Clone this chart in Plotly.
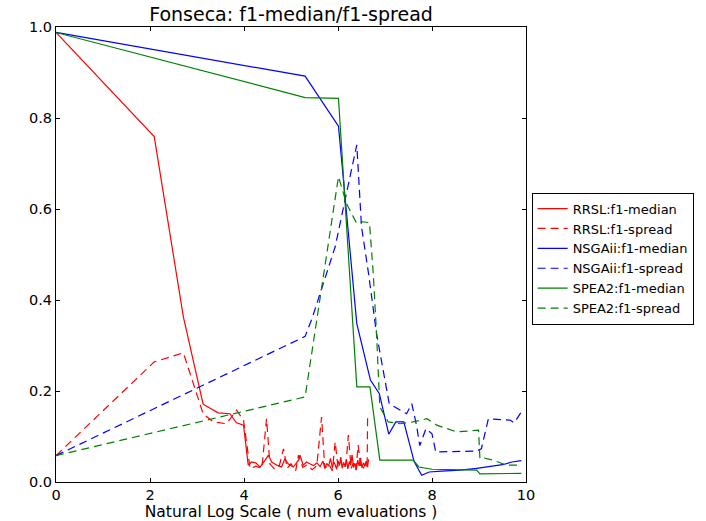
import plotly.graph_objects as go

# RRSL
rrsl_med_x = [0, 2.09, 2.71, 3.13, 3.45, 3.70, 3.84, 3.99, 4.09, 4.16, 4.25, 4.34, 4.45, 4.52, 4.59, 4.70,
              4.80, 4.87, 4.94, 5.05, 5.16, 5.19, 5.26, 5.33, 5.40, 5.48, 5.55, 5.62, 5.68, 5.72, 5.76,
              5.80, 5.84, 5.88, 5.91, 5.94, 5.97, 6.00, 6.03, 6.06, 6.09, 6.12, 6.15, 6.18, 6.21, 6.24,
              6.27, 6.30, 6.33, 6.36, 6.39, 6.42, 6.45, 6.48, 6.51, 6.54, 6.57, 6.60, 6.63, 6.65]
rrsl_med_y = [0.988, 0.759, 0.363, 0.171, 0.152, 0.150, 0.130, 0.125, 0.037, 0.044, 0.042, 0.033, 0.048,
              0.059, 0.044, 0.037, 0.033, 0.051, 0.040, 0.033, 0.048, 0.059, 0.037, 0.044, 0.040, 0.036,
              0.042, 0.034, 0.046, 0.030, 0.041, 0.035, 0.052, 0.031, 0.044, 0.038, 0.028, 0.047, 0.036,
              0.055, 0.030, 0.043, 0.034, 0.050, 0.029, 0.045, 0.037, 0.060, 0.032, 0.041, 0.027, 0.048,
              0.035, 0.053, 0.031, 0.042, 0.036, 0.046, 0.033, 0.050]
rrsl_spr_x = [0, 2.09, 2.71, 3.13, 3.35, 3.63, 3.84, 3.99, 4.13, 4.25, 4.38, 4.48, 4.55, 4.65, 4.75, 4.84,
              4.92, 5.00, 5.10, 5.16, 5.25, 5.35, 5.45, 5.55, 5.65, 5.72, 5.80, 5.88, 5.94, 6.00, 6.06,
              6.12, 6.17, 6.22, 6.28, 6.33, 6.38, 6.43, 6.48, 6.53, 6.58, 6.62, 6.63]
rrsl_spr_y = [0.058, 0.264, 0.284, 0.150, 0.132, 0.128, 0.158, 0.136, 0.029, 0.035, 0.030, 0.139, 0.040,
              0.028, 0.035, 0.073, 0.030, 0.040, 0.025, 0.059, 0.032, 0.038, 0.027, 0.036, 0.143, 0.030,
              0.040, 0.025, 0.088, 0.032, 0.045, 0.028, 0.038, 0.103, 0.030, 0.042, 0.026, 0.081, 0.035,
              0.028, 0.040, 0.030, 0.145]

# NSGAii
nsga_med_x = [0, 5.30, 6.01, 6.40, 6.69, 6.88, 7.08, 7.23, 7.40, 7.62, 7.78, 7.94, 8.20, 8.60, 8.95, 9.20,
              9.50, 9.70, 9.90]
nsga_med_y = [0.988, 0.892, 0.782, 0.348, 0.224, 0.194, 0.105, 0.132, 0.132, 0.045, 0.015, 0.022, 0.024,
              0.026, 0.030, 0.033, 0.038, 0.044, 0.047]
nsga_spr_x = [0, 5.30, 5.45, 5.62, 5.94, 6.15, 6.33, 6.40, 6.50, 6.65, 6.82, 7.00, 7.09, 7.46, 7.57, 7.67,
              7.74, 7.87, 8.00, 8.08, 8.95, 9.05, 9.20, 9.66, 9.75, 9.92]
nsga_spr_y = [0.058, 0.320, 0.360, 0.414, 0.517, 0.620, 0.708, 0.741, 0.561, 0.458, 0.326, 0.224, 0.172,
              0.150, 0.172, 0.125, 0.080, 0.117, 0.106, 0.066, 0.068, 0.073, 0.139, 0.136, 0.130, 0.157]

# SPEA2
spea_med_x = [0, 5.30, 6.01, 6.40, 6.68, 6.89, 7.60, 7.72, 8.00, 8.95, 9.02, 9.90]
spea_med_y = [0.988, 0.845, 0.843, 0.209, 0.209, 0.048, 0.048, 0.033, 0.028, 0.026, 0.018, 0.019]
spea_spr_x = [0, 5.30, 6.01, 6.18, 6.40, 6.52, 6.67, 6.75, 6.82, 6.89, 7.07, 7.32, 7.60, 7.89, 8.10, 8.31,
              8.53, 8.99, 9.02, 9.10, 9.30, 9.59, 9.90]
spea_spr_y = [0.058, 0.187, 0.671, 0.612, 0.568, 0.572, 0.570, 0.458, 0.326, 0.165, 0.132, 0.128, 0.132,
              0.139, 0.125, 0.117, 0.110, 0.114, 0.051, 0.053, 0.048, 0.037, 0.037]

series = [
    ("RRSL:f1-median", rrsl_med_x, rrsl_med_y, "#ff0000", "solid"),
    ("RRSL:f1-spread", rrsl_spr_x, rrsl_spr_y, "#ff0000", "8px,5px"),
    ("NSGAii:f1-median", nsga_med_x, nsga_med_y, "#0000ff", "solid"),
    ("NSGAii:f1-spread", nsga_spr_x, nsga_spr_y, "#0000ff", "8px,5px"),
    ("SPEA2:f1-median", spea_med_x, spea_med_y, "#008000", "solid"),
    ("SPEA2:f1-spread", spea_spr_x, spea_spr_y, "#008000", "8px,5px"),
]

fig = go.Figure()
for name, xs, ys, color, dash in series:
    fig.add_trace(go.Scatter(x=xs, y=ys, mode="lines", name=name,
                             line=dict(color=color, width=1.2, dash=dash)))

axis_common = dict(showline=True, linecolor="black", linewidth=1, mirror="ticks",
                   ticks="inside", ticklen=4, tickcolor="black", showgrid=False,
                   zeroline=False, automargin=False,
                   tickfont=dict(size=14.5, color="black"))

fig.update_layout(
    width=706, height=521,
    margin=dict(l=56, r=180, t=27, b=39),
    paper_bgcolor="white", plot_bgcolor="white",
    font=dict(family="DejaVu Sans", color="black"),
    title=dict(text="Fonseca: f1-median/f1-spread", x=(56 + 470 / 2) / 706, xanchor="center",
               y=1 - 14 / 521, yanchor="middle", font=dict(size=19)),
    xaxis=dict(range=[0, 10], dtick=2, tickformat="d",
               title=dict(text="Natural Log Scale ( num evaluations )", font=dict(size=15.5), standoff=2),
               **axis_common),
    yaxis=dict(range=[0, 1], dtick=0.2, tickformat=".1f", **axis_common),
    legend=dict(x=1.012, y=0.636, xanchor="left", yanchor="top", bordercolor="black",
                borderwidth=1, bgcolor="white", font=dict(size=13), tracegroupgap=0),
    showlegend=True,
)

fig.write_html("out.html")
